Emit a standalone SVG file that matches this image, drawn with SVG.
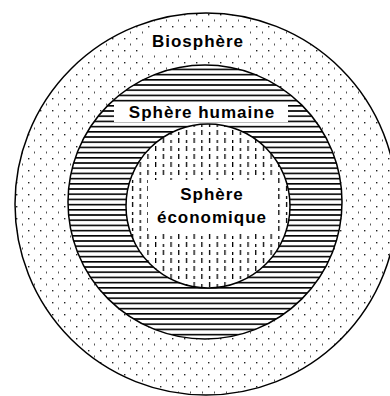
<svg xmlns="http://www.w3.org/2000/svg" width="390" height="396" viewBox="0 0 390 396">
<style>
.ring{stroke:#000;stroke-width:1.5}
.lbl{font-family:"Liberation Sans",Arial,sans-serif;font-weight:bold;font-size:17px;letter-spacing:1px;fill:#000;text-anchor:middle}
.bg{fill:#fff}
</style>
<defs>
<pattern id="dots" width="12" height="12" patternUnits="userSpaceOnUse" x="4" y="2">
<rect width="12" height="12" fill="#fff"/>
<rect x="0" y="0" width="1.4" height="1.4" fill="#222"/>
<rect x="6" y="5.5" width="1" height="2" fill="#555"/>
</pattern>
<pattern id="hstripes" width="10" height="5.2" patternUnits="userSpaceOnUse" y="1">
<rect width="10" height="5.2" fill="#fff"/>
<rect y="0" width="10" height="1.6" fill="#000"/>
</pattern>
<pattern id="vdash" width="15.4" height="16" patternUnits="userSpaceOnUse" x="1" y="2">
<rect width="15.4" height="16" fill="#fff"/>
<rect x="0" y="0" width="1.3" height="5" fill="#000"/>
<rect x="7.7" y="2" width="1.3" height="3" fill="#000"/>
<rect x="0" y="10" width="1.3" height="3" fill="#000"/>
<rect x="7.7" y="8" width="1.3" height="5" fill="#000"/>
</pattern>
</defs>
<g id="biosphere">
<circle class="ring" cx="206" cy="204" r="191" fill="url(#dots)"/>
<rect class="bg" x="146" y="30" width="100" height="25"/>
<text class="lbl" x="198" y="47">Biosphère</text>
</g>
<g id="sphere-humaine">
<circle class="ring" cx="205" cy="202" r="137" fill="url(#hstripes)"/>
<rect class="bg" x="114" y="102" width="174" height="20"/>
<text class="lbl" x="202" y="118">Sphère humaine</text>
</g>
<g id="sphere-economique">
<circle class="ring" cx="208" cy="206" r="82" fill="url(#vdash)"/>
<rect class="bg" x="148" y="180" width="128" height="51"/>
<text class="lbl" x="212" y="200">Sphère</text>
<text class="lbl" x="212" y="223">économique</text>
</g>
<g id="connectors"/>
</svg>
